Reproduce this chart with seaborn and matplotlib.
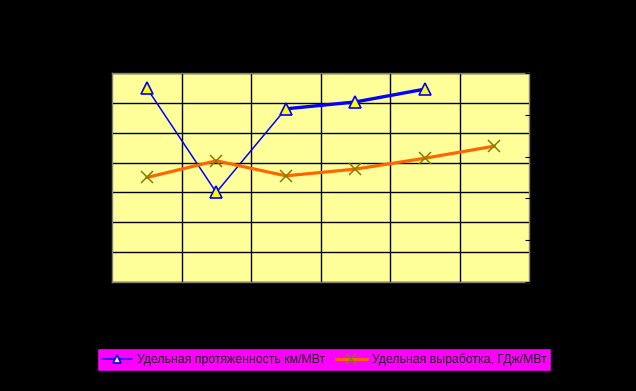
import numpy as np
import pandas as pd
import matplotlib
matplotlib.use("Agg")
import matplotlib.pyplot as plt
import seaborn as sns

sns.set_style("white")
plt.rcParams["font.family"] = ["Liberation Sans", "DejaVu Sans"]

# categories on the x axis (labels are black on black in the original)
years = ["2005", "2006", "2007", "2008", "2009", "2010"]
# left axis: specific line length, km/MW
length_km_mw = [6.5, 3.0, 5.8, 6.03, 6.46, np.nan]
# right axis: specific output, GJ/MW
output_gj_mw = [2.50, 2.90, 2.54, 2.70, 2.96, 3.25]

label_len = "Удельная протяженность км/МВт"
label_out = "Удельная выработка, ГДж/МВт"

df = pd.DataFrame({
    "year": years,
    "pos": np.arange(len(years)),
    "length": length_km_mw,
    "output": output_gj_mw,
})

fig = plt.figure(figsize=(6.36, 3.91), dpi=100, facecolor="black")
ax = fig.add_axes([0.1761, 0.2788, 0.6557, 0.5345])
ax.set_facecolor("#FFFF99")
ax2 = ax.twinx()

# blue series, thicker stroke on the later segments as in the original
sns.lineplot(data=df[df["pos"] >= 2], x="pos", y="length", ax=ax, color="#0000FF",
             linewidth=2.4, errorbar=None, legend=False)
sns.lineplot(data=df, x="pos", y="length", ax=ax, color="#0000FF", linewidth=1.1,
             marker="^", markersize=8, markerfacecolor="#FFFF00",
             markeredgecolor="#0000FF", markeredgewidth=1.2,
             errorbar=None, legend=False, label=label_len)

# orange series on secondary axis
sns.lineplot(data=df, x="pos", y="output", ax=ax2, color="#FF6600", linewidth=2.3,
             marker="x", markersize=9, markeredgecolor="#808000",
             markeredgewidth=1.1, errorbar=None, legend=False, label=label_out)

ax.set_xlim(-0.5, len(years) - 0.5)
ax.set_ylim(0, 7)
ax2.set_ylim(0, 5)

ax.set_xticks(np.arange(len(years)))
ax.set_xticklabels(years, color="black")
ax.set_xticks(np.arange(len(years) - 1) + 0.5, minor=True)
ax.set_yticks(np.arange(0, 8, 1))
ax.tick_params(axis="both", colors="black", labelsize=9)
ax.tick_params(axis="x", which="both", length=0)
ax2.set_yticks(np.arange(0, 6, 1))
ax2.tick_params(axis="y", colors="black", direction="inout", length=6, labelsize=9)

ax.grid(which="minor", axis="x", color="black", linewidth=1)
ax.grid(which="major", axis="y", color="black", linewidth=1)
ax.set_axisbelow(True)
ax.set_xlabel("")
ax.set_ylabel("")
ax2.set_ylabel("")

for sp in ax.spines.values():
    sp.set_color("#808080")
    sp.set_linewidth(1)
for sp in ax2.spines.values():
    sp.set_visible(False)

h1, l1 = ax.get_legend_handles_labels()
h2, l2 = ax2.get_legend_handles_labels()
leg = fig.legend(h1 + h2, l1 + l2, loc="center", bbox_to_anchor=(0.5094, 0.0806),
                 ncol=2, facecolor="#FF00FF", edgecolor="black", framealpha=1,
                 fancybox=False, fontsize=8.8, handlelength=2.5, columnspacing=0.9,
                 handletextpad=0.4, borderpad=0.4, markerscale=0.75,
                 labelcolor="#1a1a1a")
leg.get_frame().set_linewidth(1)

fig.savefig("out.png", dpi=100, facecolor="black")
